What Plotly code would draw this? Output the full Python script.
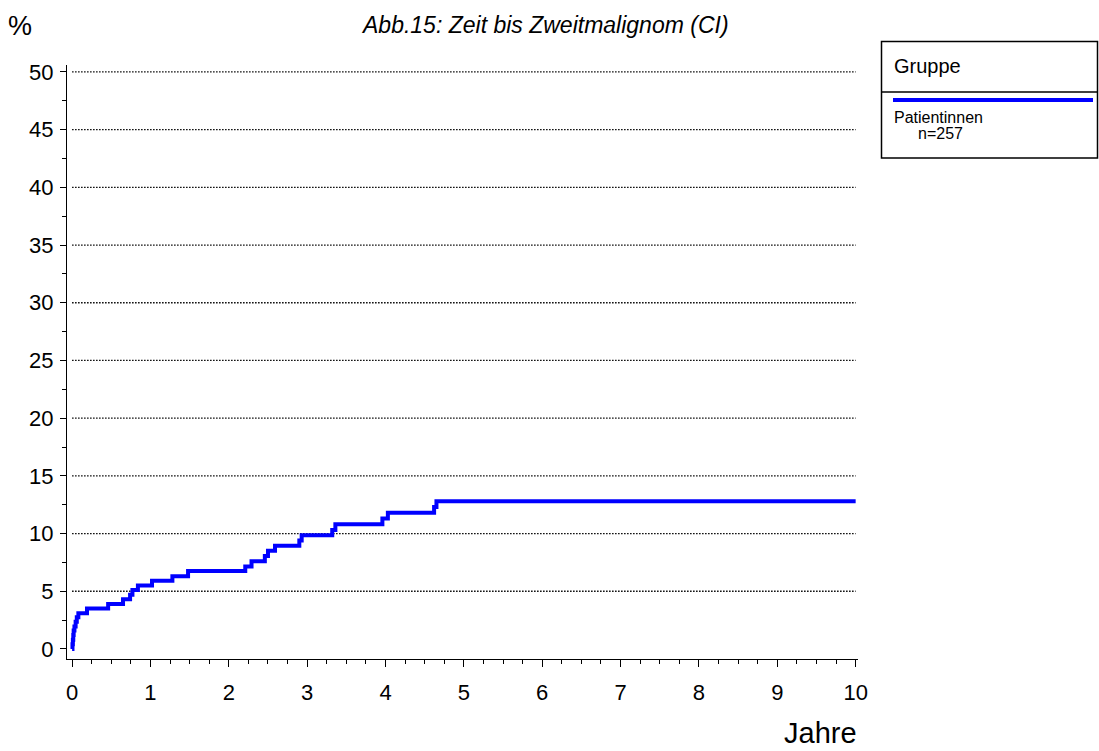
import plotly.graph_objects as go

# Data: cumulative incidence (%) step function
years = [0, 0.005, 0.01, 0.015, 0.02, 0.03, 0.045, 0.06, 0.08, 0.19, 0.46, 0.65, 0.74, 0.77,
         0.84, 1.02, 1.28, 1.48, 2.21, 2.29, 2.46, 2.50, 2.59, 2.90, 2.93, 3.32, 3.36,
         3.96, 4.03, 4.62, 4.65, 10.0]
percent = [0, 0.4, 0.8, 1.2, 1.6, 1.95, 2.35, 2.75, 3.1, 3.5, 3.9, 4.3, 4.7, 5.1,
           5.5, 5.9, 6.3, 6.75, 7.15, 7.6, 8.05, 8.5, 8.95, 9.4, 9.85, 10.3, 10.8,
           11.3, 11.8, 12.3, 12.8, 12.8]
x_ticks = list(range(0, 11))
y_ticks = list(range(0, 55, 5))
title_text = "Abb.15: Zeit bis Zweitmalignom (CI)"
legend_title = "Gruppe"
series_name = "Patientinnen"
series_n = "n=257"

W, H = 1099, 751
L, R, T, B = 67, 858, 65, 659
FONT = "Arial, Liberation Sans, sans-serif"


def px(xp):
    return (xp - L) / (R - L)


def py(yp):
    return (B - yp) / (B - T)


fig = go.Figure()
fig.add_trace(go.Scatter(x=years, y=percent, mode="lines", line=dict(color="#0000FF", width=4, shape="hv"),
                         showlegend=False, hoverinfo="skip"))

shapes = []
for v in y_ticks[1:]:
    shapes.append(dict(type="line", xref="x", yref="y", x0=x_ticks[0], x1=x_ticks[-1], y0=v, y1=v,
                       line=dict(color="black", width=1.3, dash="1.5px,1.5px"), layer="below"))
# legend box
shapes.append(dict(type="rect", xref="paper", yref="paper", x0=px(881.5), x1=px(1097.5), y0=py(158), y1=py(41.5),
                   line=dict(color="black", width=1.5)))
shapes.append(dict(type="line", xref="paper", yref="paper", x0=px(881.5), x1=px(1097.5), y0=py(92), y1=py(92),
                   line=dict(color="black", width=1.5)))
shapes.append(dict(type="line", xref="paper", yref="paper", x0=px(893), x1=px(1093), y0=py(100), y1=py(100),
                   line=dict(color="#0000FF", width=4)))

annotations = [
    dict(text=f"<i>{title_text}</i>", xref="paper", yref="paper", x=px(545), y=py(25), showarrow=False,
         font=dict(size=23, family=FONT, color="black"), xanchor="center", yanchor="middle"),
    dict(text="%", xref="paper", yref="paper", x=px(20), y=py(26), showarrow=False,
         font=dict(size=27, family=FONT, color="black"), xanchor="center", yanchor="middle"),
    dict(text="Jahre", xref="paper", yref="paper", x=px(820), y=py(733), showarrow=False,
         font=dict(size=29, family=FONT, color="black"), xanchor="center", yanchor="middle"),
    dict(text=legend_title, xref="paper", yref="paper", x=px(892), y=py(66), showarrow=False,
         font=dict(size=20, family=FONT, color="black"), xanchor="left", yanchor="middle"),
    dict(text=series_name, xref="paper", yref="paper", x=px(892), y=py(117), showarrow=False,
         font=dict(size=16, family=FONT, color="black"), xanchor="left", yanchor="middle"),
    dict(text=series_n, xref="paper", yref="paper", x=px(916), y=py(133), showarrow=False,
         font=dict(size=16, family=FONT, color="black"), xanchor="left", yanchor="middle"),
]

fig.update_layout(
    width=W, height=H,
    margin=dict(l=L, r=W - R, t=T, b=H - B, pad=0),
    paper_bgcolor="white", plot_bgcolor="white",
    shapes=shapes, annotations=annotations,
    showlegend=False,
    xaxis=dict(range=[-0.065, 10.03], tickvals=x_ticks, ticktext=[str(v) for v in x_ticks],
               showgrid=False, zeroline=False, showline=True, linecolor="black", linewidth=1.3,
               ticks="outside", ticklen=7, tickcolor="black", tickwidth=1.3,
               tickfont=dict(size=22, family=FONT, color="black"), ticklabelstandoff=6,
               minor=dict(dtick=0.25, tick0=0, ticks="outside", ticklen=4, tickcolor="black", showgrid=False)),
    yaxis=dict(range=[-0.87, 50.6], tickvals=y_ticks, ticktext=[str(v) for v in y_ticks],
               showgrid=False, zeroline=False, showline=True, linecolor="black", linewidth=1.3,
               ticks="outside", ticklen=6, tickcolor="black", tickwidth=1.3,
               tickfont=dict(size=22, family=FONT, color="black"), ticklabelstandoff=2,
               minor=dict(dtick=2.5, tick0=0, ticks="outside", ticklen=4, tickcolor="black", showgrid=False)),
)

fig.write_html("out.html", config={"displayModeBar": False},
               post_script="document.body.style.margin='0';document.body.style.overflow='hidden';")
